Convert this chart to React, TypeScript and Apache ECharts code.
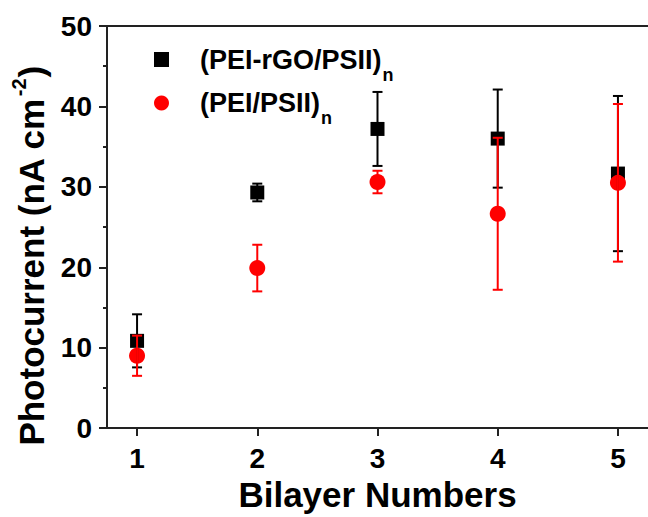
import React, { useEffect, useRef } from "react";
import * as echarts from "echarts";

const bilayers = [1, 2, 3, 4, 5];
const rgoMean = [10.85, 29.3, 37.2, 36.0, 31.65];
const rgoSd = [3.3, 1.1, 4.6, 6.1, 9.65];
const peiMean = [9.0, 19.9, 30.6, 26.65, 30.5];
const peiSd = [2.5, 2.9, 1.4, 9.45, 9.8];
const yTicks = [0, 10, 20, 30, 40, 50];

const nameRgo = "(PEI-rGO/PSII)n";
const namePei = "(PEI/PSII)n";
const FONT = "'Liberation Sans', Arial, sans-serif";

function errData(mean: number[], sd: number[]) {
  return bilayers.map((x, i) => [x, mean[i] - sd[i], mean[i] + sd[i]]);
}

function makeErr(color: string) {
  return (params: any, api: any) => {
    const x = api.value(0);
    const lo = api.coord([x, api.value(1)]);
    const hi = api.coord([x, api.value(2)]);
    const hw = 5;
    const st = { stroke: color, lineWidth: 2 };
    return {
      type: "group",
      children: [
        { type: "line", shape: { x1: hi[0], y1: hi[1], x2: lo[0], y2: lo[1] }, style: st },
        { type: "line", shape: { x1: hi[0] - hw, y1: hi[1], x2: hi[0] + hw, y2: hi[1] }, style: st },
        { type: "line", shape: { x1: lo[0] - hw, y1: lo[1], x2: lo[0] + hw, y2: lo[1] }, style: st },
      ],
    };
  };
}

export default function App() {
  const ref = useRef<HTMLDivElement>(null);
  useEffect(() => {
    if (!ref.current) return;
    const chart = echarts.init(ref.current, null, { renderer: "svg" });
    const axisLine = { show: true, lineStyle: { color: "#222", width: 2 } };
    chart.setOption({
      animation: false,
      textStyle: { fontFamily: FONT },
      grid: { left: 107, top: 26, bottom: 85, right: -8 },
      xAxis: [
        {
          type: "value",
          min: 0.75,
          max: 5.25,
          position: "bottom",
          axisLine,
          axisTick: { show: true, length: 8, lineStyle: { color: "#222", width: 2 }, customValues: bilayers },
          axisLabel: {
            show: true,
            customValues: bilayers,
            margin: 16,
            fontSize: 28,
            fontWeight: "bold",
            color: "#000",
            fontFamily: FONT,
          },
          splitLine: { show: false },
          name: "Bilayer Numbers",
          nameLocation: "middle",
          nameGap: 47,
          nameTextStyle: { fontSize: 35, fontWeight: "bold", color: "#000", fontFamily: FONT },
        },
        {
          type: "value",
          min: 0.75,
          max: 5.25,
          position: "top",
          axisLine,
          axisTick: { show: false },
          axisLabel: { show: false },
          splitLine: { show: false },
        },
      ],
      yAxis: {
        type: "value",
        min: yTicks[0],
        max: yTicks[yTicks.length - 1],
        interval: 10,
        axisLine,
        axisTick: { show: true, length: 8, lineStyle: { color: "#222", width: 2 } },
        minorTick: { show: true, splitNumber: 2, length: 4, lineStyle: { color: "#222", width: 2 } },
        axisLabel: { margin: 15, fontSize: 28, fontWeight: "bold", color: "#000", fontFamily: FONT },
        splitLine: { show: false },
        minorSplitLine: { show: false },
      },
      legend: {
        data: [nameRgo, namePei],
        orient: "vertical",
        left: 154,
        top: 46,
        padding: 0,
        itemGap: 6,
        itemWidth: 15,
        itemHeight: 15,
        formatter: (name: string) => {
          const base = name.slice(0, -1);
          return `{a|${base}}{b|n}`;
        },
        textStyle: {
          rich: {
            a: { fontSize: 27, fontWeight: "bold", color: "#000", fontFamily: FONT, padding: [0, 0, 0, 26] },
            b: { fontSize: 18, fontWeight: "bold", color: "#000", fontFamily: FONT, padding: [30, 0, 0, 1] },
          },
        },
      },
      graphic: [
        {
          type: "text",
          x: 31,
          y: 256,
          rotation: Math.PI / 2,
          style: {
            text: "{a|Photocurrent (nA cm}{s|-2}{a|)}",
            align: "center",
            verticalAlign: "middle",
            rich: {
              a: { fontSize: 35, fontWeight: "bold", fill: "#000", fontFamily: FONT },
              s: { fontSize: 20, fontWeight: "bold", fill: "#000", fontFamily: FONT, padding: [0, 1, 24, 2] },
            },
          },
        },
      ],
      series: [
        {
          name: nameRgo,
          type: "scatter",
          symbol: "rect",
          symbolSize: 14,
          itemStyle: { color: "#000", opacity: 1 },
          z: 2,
          data: bilayers.map((x, i) => [x, rgoMean[i]]),
        },
        {
          name: namePei,
          type: "scatter",
          symbol: "circle",
          symbolSize: 16,
          itemStyle: { color: "#ff0000", opacity: 1 },
          z: 3,
          data: bilayers.map((x, i) => [x, peiMean[i]]),
        },
        {
          name: "rgoErr",
          type: "custom",
          renderItem: makeErr("#000"),
          encode: { x: 0, y: [1, 2] },
          z: 4,
          data: errData(rgoMean, rgoSd),
        },
        {
          name: "peiErr",
          type: "custom",
          renderItem: makeErr("#ff0000"),
          encode: { x: 0, y: [1, 2] },
          z: 5,
          data: errData(peiMean, peiSd),
        },
      ],
    });
    return () => chart.dispose();
  }, []);
  return (
    <div
      ref={ref}
      style={{ position: "fixed", left: 0, top: 0, width: 648, height: 517, background: "#fff" }}
    />
  );
}
